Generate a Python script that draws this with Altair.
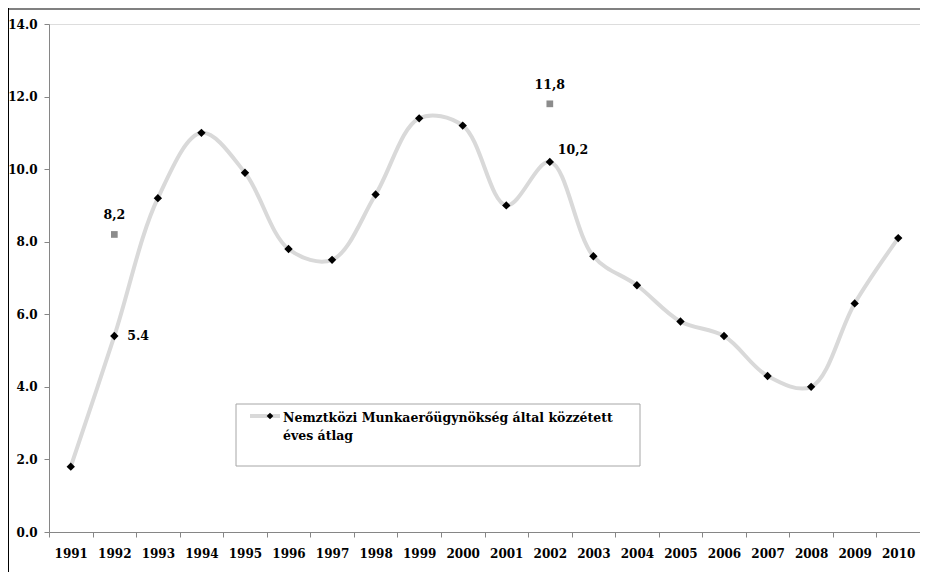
import altair as alt
import pandas as pd

years = [str(y) for y in range(1991, 2011)]
values = [1.8, 5.4, 9.2, 11.0, 9.9, 7.8, 7.5, 9.3, 11.4, 11.2,
          9.0, 10.2, 7.6, 6.8, 5.8, 5.4, 4.3, 4.0, 6.3, 8.1]

alt_years = ["1992", "2002"]
alt_values = [8.2, 11.8]
alt_labels = ["8,2", "11,8"]

ann_years = ["1992", "2002"]
ann_values = [5.4, 10.2]
ann_labels = ["5.4", "10,2"]

legend_text = "Nemztközi Munkaerőügynökség által közzétett\néves átlag"

FONT = "DejaVu Serif"

df = pd.DataFrame({"year": years, "value": values})
df_alt = pd.DataFrame({"year": alt_years, "value": alt_values, "label": alt_labels})
df_ann = pd.DataFrame({"year": ann_years, "value": ann_values, "label": ann_labels})

x = alt.X("year:O", bandPosition=0.5,
          scale=alt.Scale(type="band", paddingInner=0, paddingOuter=0),
          axis=alt.Axis(title=None, labelAngle=0, tickBand="extent", tickSize=5,
                        labelPadding=11, labelFont=FONT, labelFontSize=12,
                        labelFontWeight="bold", labelColor="black",
                        domainColor="#868686", tickColor="#868686"))
y = alt.Y("value:Q",
          scale=alt.Scale(domain=[0, 14], nice=False),
          axis=alt.Axis(title=None, values=[0, 2, 4, 6, 8, 10, 12, 14], format=".1f",
                        grid=False, tickSize=5, labelPadding=7, labelFont=FONT,
                        labelFontSize=12, labelFontWeight="bold", labelColor="black",
                        domainColor="#868686", tickColor="#868686"))

base = alt.Chart(df)
line = base.mark_line(color="#d9d9d9", strokeWidth=4, interpolate="catmull-rom").encode(x=x, y=y)
pts = base.mark_point(shape="diamond", filled=True, color="black", size=70, opacity=1).encode(x=x, y=y)

sq = alt.Chart(df_alt).mark_point(shape="square", filled=True, color="#8c8c8c", size=45, opacity=1).encode(x=x, y=y)
sq_txt = alt.Chart(df_alt).mark_text(dy=-19, font=FONT, fontSize=12.5, fontWeight="bold",
                                     color="black", baseline="middle").encode(x=x, y=y, text="label:N")

ann1 = alt.Chart(df_ann.iloc[[0]]).mark_text(dx=13, align="left", baseline="middle", font=FONT,
                                            fontSize=12.5, fontWeight="bold", color="black").encode(x=x, y=y, text="label:N")
ann2 = alt.Chart(df_ann.iloc[[1]]).mark_text(dx=8, dy=-12, align="left", baseline="middle", font=FONT,
                                            fontSize=12.5, fontWeight="bold", color="black").encode(x=x, y=y, text="label:N")

dummy = pd.DataFrame({"a": [0]})
leg_box = alt.Chart(dummy).mark_rect(fill="white", stroke="#a6a6a6", strokeWidth=1).encode(
    x=alt.value(187), x2=alt.value(591), y=alt.value(380), y2=alt.value(442))
leg_line = alt.Chart(dummy).mark_rule(color="#d9d9d9", strokeWidth=4).encode(
    x=alt.value(201), x2=alt.value(231), y=alt.value(392))
leg_pt = alt.Chart(dummy).mark_point(shape="diamond", filled=True, color="black", size=45, opacity=1).encode(
    x=alt.value(221), y=alt.value(392))
leg_txt = alt.Chart(dummy).mark_text(align="left", baseline="alphabetic", font=FONT, fontSize=12.5,
                                     fontWeight="bold", color="black", lineBreak="\n", lineHeight=18).encode(
    x=alt.value(234), y=alt.value(398), text=alt.value(legend_text))

frame_top = alt.Chart(dummy).mark_rule(color="#808080", strokeWidth=2).encode(
    x=alt.value(-41), x2=alt.value(880), y=alt.value(-15))
frame_left = alt.Chart(dummy).mark_rule(color="black", strokeWidth=1).encode(
    x=alt.value(-40.5), y=alt.value(-16), y2=alt.value(560))

chart = alt.layer(frame_top, frame_left, line, pts, sq, sq_txt, ann1, ann2,
                  leg_box, leg_line, leg_pt, leg_txt).properties(
    width=871, height=508,
    autosize=alt.AutoSizeParams(type="none"),
    padding={"left": 41, "top": 16, "right": 0, "bottom": 40},
).configure_view(stroke=None).configure(background="white")

chart.save("out.html", embed_options={"renderer": "svg", "actions": False})
